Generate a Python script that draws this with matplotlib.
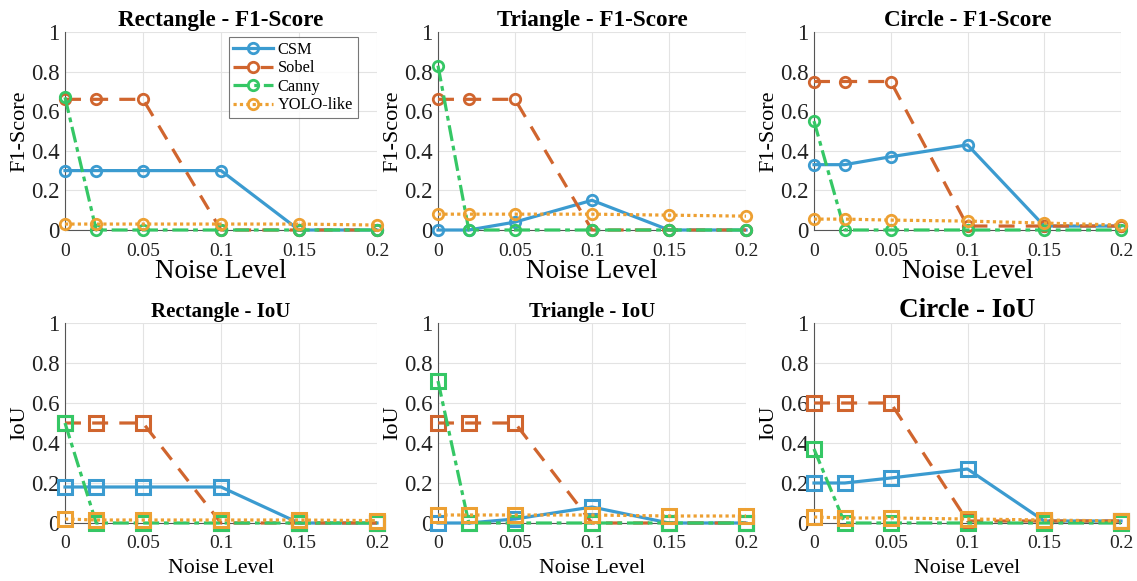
import matplotlib.pyplot as plt

plt.rcParams['font.family'] = ['Liberation Serif', 'DejaVu Serif']

noise = [0, 0.02, 0.05, 0.1, 0.15, 0.2]
methods = ['CSM', 'Sobel', 'Canny', 'YOLO-like']

# F1-score per shape
rect_f1 = {
    'CSM': [0.30, 0.30, 0.30, 0.30, 0.0, 0.0],
    'Sobel': [0.66, 0.66, 0.66, 0.0, 0.0, 0.0],
    'Canny': [0.67, 0.0, 0.0, 0.0, 0.0, 0.0],
    'YOLO-like': [0.03, 0.03, 0.03, 0.03, 0.03, 0.025],
}
tri_f1 = {
    'CSM': [0.0, 0.0, 0.04, 0.15, 0.0, 0.0],
    'Sobel': [0.66, 0.66, 0.66, 0.0, 0.0, 0.0],
    'Canny': [0.83, 0.0, 0.0, 0.0, 0.0, 0.0],
    'YOLO-like': [0.08, 0.08, 0.08, 0.08, 0.075, 0.07],
}
circ_f1 = {
    'CSM': [0.33, 0.33, 0.37, 0.43, 0.02, 0.02],
    'Sobel': [0.75, 0.75, 0.75, 0.02, 0.02, 0.02],
    'Canny': [0.55, 0.0, 0.0, 0.0, 0.0, 0.0],
    'YOLO-like': [0.055, 0.055, 0.05, 0.045, 0.035, 0.025],
}

# IoU per shape
rect_iou = {
    'CSM': [0.18, 0.18, 0.18, 0.18, 0.0, 0.0],
    'Sobel': [0.5, 0.5, 0.5, 0.0, 0.0, 0.0],
    'Canny': [0.5, 0.0, 0.0, 0.0, 0.0, 0.0],
    'YOLO-like': [0.02, 0.015, 0.015, 0.015, 0.015, 0.012],
}
tri_iou = {
    'CSM': [0.0, 0.0, 0.02, 0.08, 0.0, 0.0],
    'Sobel': [0.5, 0.5, 0.5, 0.0, 0.0, 0.0],
    'Canny': [0.71, 0.0, 0.0, 0.0, 0.0, 0.0],
    'YOLO-like': [0.04, 0.04, 0.04, 0.04, 0.035, 0.035],
}
circ_iou = {
    'CSM': [0.2, 0.2, 0.225, 0.27, 0.01, 0.01],
    'Sobel': [0.6, 0.6, 0.6, 0.01, 0.01, 0.01],
    'Canny': [0.37, 0.0, 0.0, 0.0, 0.0, 0.0],
    'YOLO-like': [0.03, 0.025, 0.025, 0.02, 0.015, 0.01],
}

colors = {'CSM': '#3b9bd0', 'Sobel': '#d0652e', 'Canny': '#35c765', 'YOLO-like': '#eda032'}
styles = {'CSM': '-', 'Sobel': (0, (5, 3.5)), 'Canny': (0, (5, 1.5, 1.5, 1.5)), 'YOLO-like': (0, (1, 1))}

panels = [
    (rect_f1, 'Rectangle - F1-Score', 'F1-Score', 'o', 16.7),
    (tri_f1, 'Triangle - F1-Score', 'F1-Score', 'o', 16.7),
    (circ_f1, 'Circle - F1-Score', 'F1-Score', 'o', 16.7),
    (rect_iou, 'Rectangle - IoU', 'IoU', 's', 15),
    (tri_iou, 'Triangle - IoU', 'IoU', 's', 15),
    (circ_iou, 'Circle - IoU', 'IoU', 's', 19.5),
]

W, H = 1137, 581
fig = plt.figure(figsize=(W / 100, H / 100), dpi=100)

lefts = [65, 438, 814]
widths = [312, 308, 307]
tops = [32, 323]
heights = [198, 200]

for i, (data, title, ylab, mk, tsize) in enumerate(panels):
    r, c = divmod(i, 3)
    ax = fig.add_axes([lefts[c] / W, 1 - (tops[r] + heights[r]) / H, widths[c] / W, heights[r] / H])
    for m in methods:
        if mk == 'o':
            ms, mew = 7.5, 2
        else:
            ms, mew = 9.5, 2.2
        ax.plot(noise, data[m], linestyle=styles[m], color=colors[m], lw=2.3,
                marker=mk, markersize=ms, markerfacecolor='none', markeredgewidth=mew,
                label=m, clip_on=False, zorder=3)
    ax.set_xlim(0, 0.2)
    ax.set_ylim(0, 1)
    ax.set_xticks([0, 0.05, 0.1, 0.15, 0.2])
    ax.set_xticklabels(['0', '0.05', '0.1', '0.15', '0.2'])
    ax.set_yticks([0, 0.2, 0.4, 0.6, 0.8, 1])
    ax.set_yticklabels(['0', '0.2', '0.4', '0.6', '0.8', '1'])
    ax.grid(True, color='#e3e3e3', lw=0.8)
    ax.set_axisbelow(True)
    for s in ['top', 'right']:
        ax.spines[s].set_visible(False)
    for s in ['left', 'bottom']:
        ax.spines[s].set_color('#555555')
        ax.spines[s].set_linewidth(0.8)
    ax.tick_params(length=0, colors='#222222')
    ax.tick_params(axis='x', labelsize=14, pad=9)
    ax.tick_params(axis='y', labelsize=16.5, pad=4)
    ax.set_title(title, fontsize=tsize, fontweight='bold', pad=4)
    if r == 0:
        ax.set_ylabel(ylab, fontsize=16, labelpad=1)
        ax.set_xlabel('Noise Level', fontsize=19.5, labelpad=0)
    else:
        ax.set_ylabel(ylab, fontsize=16, labelpad=1)
        ax.set_xlabel('Noise Level', fontsize=15.7, labelpad=5)
    if i == 0:
        leg = ax.legend(loc='upper right', fontsize=11.8, handlelength=2.4, borderpad=0.3,
                        labelspacing=0.15, handletextpad=0.3, borderaxespad=0,
                        fancybox=False, edgecolor='#555555', bbox_to_anchor=(0.939, 0.975))
        leg.get_frame().set_linewidth(0.8)

fig.savefig('out.png', dpi=100)
